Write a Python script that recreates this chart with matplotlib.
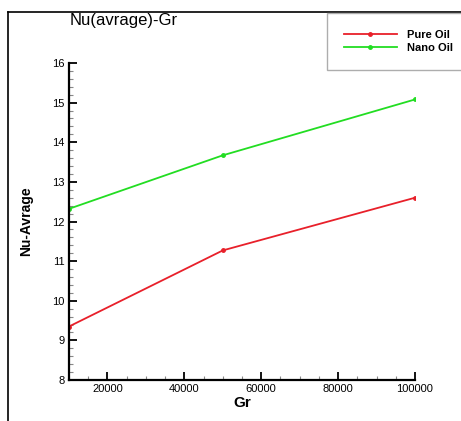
import numpy as np
import matplotlib.pyplot as plt
from matplotlib.lines import Line2D
from matplotlib.ticker import MultipleLocator

# datos
gr = [10000, 50000, 100000]
nu_pure = [9.35, 11.27, 12.60]
nu_nano = [12.32, 13.67, 15.08]
series_names = ['Pure Oil', 'Nano Oil']

plt.rcParams['font.family'] = ['Liberation Sans', 'DejaVu Sans']

fig = plt.figure(figsize=(4.61, 4.21), dpi=100)
ax = fig.add_axes([69/461, 1 - 380/421, (415 - 69)/461, (380 - 63)/421])

ax.plot(gr, nu_pure, color='#e8202a', linewidth=1.3, marker='o', markersize=2.5, label=series_names[0])
ax.plot(gr, nu_nano, color='#22dd22', linewidth=1.3, marker='o', markersize=2.5, label=series_names[1])

ax.set_xlim(10000, 100000)
ax.set_ylim(8, 16)
ax.xaxis.set_major_locator(MultipleLocator(20000))
ax.xaxis.set_minor_locator(MultipleLocator(5000))
ax.yaxis.set_major_locator(MultipleLocator(1))
ax.yaxis.set_minor_locator(MultipleLocator(0.2))
ax.tick_params(which='major', direction='in', length=6, width=1.3, labelsize=8, pad=3)
ax.tick_params(which='minor', direction='in', length=3, width=0.8, color='#888888')
for side in ['top', 'right']:
    ax.spines[side].set_visible(False)
for side in ['left', 'bottom']:
    ax.spines[side].set_linewidth(1.6)

ax.set_xlabel('Gr', fontsize=11, fontweight='bold', labelpad=1)
ax.set_ylabel('Nu-Avrage', fontsize=10, fontweight='bold', labelpad=14)

fig.text(70/461, 1 - 21/421, 'Nu(avrage)-Gr', fontsize=12, ha='left', va='center')

# marco de la figura
fig.add_artist(Line2D([8/461, 8/461], [0, 1 - 12/421], color='black', linewidth=1.2, transform=fig.transFigure))
fig.add_artist(Line2D([8/461, 1], [1 - 12/421, 1 - 12/421], color='black', linewidth=1.2, transform=fig.transFigure))

leg = fig.legend(loc='upper left', bbox_to_anchor=(327/461, 1 - 13/421), fancybox=False,
                 prop={'weight': 'bold', 'size': 8}, handlelength=4.8, borderpad=1.5,
                 labelspacing=0.3, handletextpad=0.9, borderaxespad=0)
leg.get_frame().set_edgecolor('#999999')
leg.get_frame().set_linewidth(1.0)

fig.savefig('out.png', dpi=100)
